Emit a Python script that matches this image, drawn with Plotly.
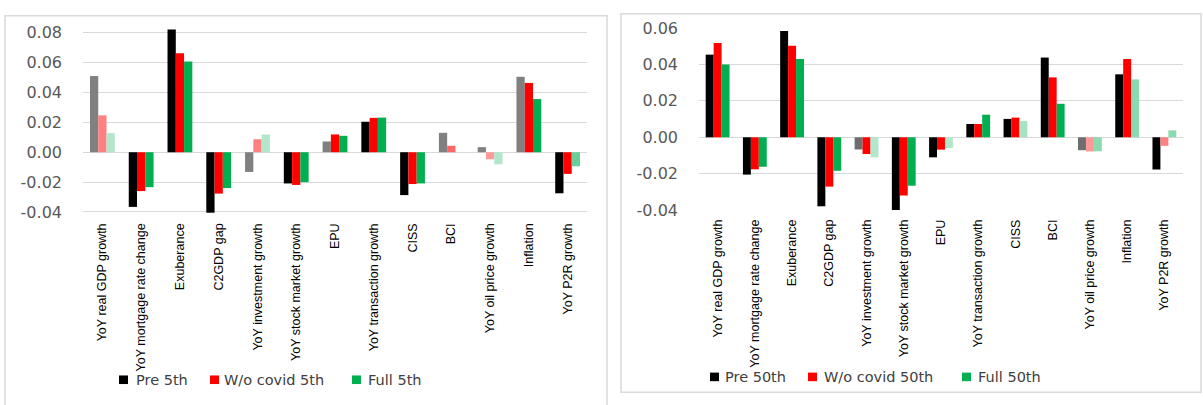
import plotly.graph_objects as go

# Indicator names along the x axis (shared by both panels)
categories = [
    "YoY real GDP growth", "YoY mortgage rate change", "Exuberance", "C2GDP gap",
    "YoY investment growth", "YoY stock market growth", "EPU",
    "YoY transaction growth", "CISS", "BCI", "YoY oil price growth",
    "Inflation", "YoY P2R growth",
]

# 5th quantile coefficients
pre_5th = [0.0510, -0.0366, 0.0822, -0.0405, -0.0132, -0.0209, 0.0072,
           0.0204, -0.0287, 0.0130, 0.0034, 0.0505, -0.0275]
wo_covid_5th = [0.0247, -0.0260, 0.0662, -0.0277, 0.0087, -0.0219, 0.0119,
                0.0230, -0.0213, 0.0043, -0.0047, 0.0464, -0.0145]
full_5th = [0.0128, -0.0234, 0.0607, -0.0240, 0.0119, -0.0200, 0.0110,
            0.0232, -0.0209, 0.0, -0.0081, 0.0356, -0.0094]

# 50th quantile coefficients
pre_50th = [0.0454, -0.0205, 0.0584, -0.0379, -0.0067, -0.0400, -0.0110,
            0.0073, 0.0101, 0.0438, -0.0071, 0.0346, -0.0177]
wo_covid_50th = [0.0518, -0.0176, 0.0503, -0.0271, -0.0092, -0.0320, -0.0068,
                 0.0073, 0.0108, 0.0329, -0.0078, 0.0430, -0.0047]
full_50th = [0.0400, -0.0162, 0.0430, -0.0184, -0.0110, -0.0266, -0.0059,
             0.0124, 0.0089, 0.0184, -0.0077, 0.0318, 0.0038]

# Y-axis ticks of each panel
ticks_5th = [-0.04, -0.02, 0.00, 0.02, 0.04, 0.06, 0.08]
ticks_50th = [-0.04, -0.02, 0.00, 0.02, 0.04, 0.06]

# Shading of each bar (1 = solid, lower = faded, weaker estimates)
pre_5th_shade = [0.5, 1, 1, 1, 0.5, 1, 0.5, 1, 1, 0.5, 0.5, 0.5, 1]
wo_covid_5th_shade = [0.5, 1, 1, 1, 0.5, 1, 1, 1, 1, 0.6, 0.4, 1, 1]
full_5th_shade = [0.3, 1, 1, 1, 0.3, 1, 1, 1, 1, 0.3, 0.3, 1, 0.6]
pre_50th_shade = [1, 1, 1, 1, 0.57, 1, 1, 1, 1, 1, 0.57, 1, 1]
wo_covid_50th_shade = [1, 1, 1, 1, 1, 1, 1, 1, 1, 1, 0.4, 1, 0.5]
full_50th_shade = [1, 1, 1, 1, 0.3, 1, 0.3, 1, 0.35, 1, 0.45, 0.45, 0.45]

BLACK = (0, 0, 0)
RED = (255, 0, 0)
GREEN = (0, 176, 80)


def tint(rgb, a):
    r, g, b = (round(255 - a * (255 - c)) for c in rgb)
    return f"rgb({r},{g},{b})"


def hexc(rgb):
    return "#%02x%02x%02x" % rgb


W, H = 1203, 405


def px_x(v):
    return v / W


def px_y(v):
    return (H - v) / H


fig = go.Figure()

panels = [
    dict(xa="x", ya="y",
         series=[("Pre 5th", pre_5th, pre_5th_shade, BLACK),
                 ("W/o covid 5th", wo_covid_5th, wo_covid_5th_shade, RED),
                 ("Full 5th", full_5th, full_5th_shade, GREEN)],
         # legend key: (square left edge, text left edge) in pixels, row centre
         keys=[(119, 135), (210, 223), (352, 367)], key_y=389),
    dict(xa="x2", ya="y2",
         series=[("Pre 50th", pre_50th, pre_50th_shade, BLACK),
                 ("W/o covid 50th", wo_covid_50th, wo_covid_50th_shade, RED),
                 ("Full 50th", full_50th, full_50th_shade, GREEN)],
         keys=[(710, 724), (808, 823), (962, 977)], key_y=386),
]

legend_font = dict(family="DejaVu Sans, Verdana, sans-serif", size=14.5, color="#404040")
shapes = []
annotations = []

for p in panels:
    for (name, vals, shade, rgb), (sq_x, tx_x) in zip(p["series"], p["keys"]):
        fig.add_trace(go.Bar(
            x=categories, y=vals, name=name, xaxis=p["xa"], yaxis=p["ya"],
            marker=dict(color=[tint(rgb, a) for a in shade], line=dict(width=0)),
            showlegend=False,
        ))
        cy = p["key_y"]
        shapes.append(dict(type="rect", xref="paper", yref="paper",
                           x0=px_x(sq_x), x1=px_x(sq_x + 9),
                           y0=px_y(cy + 4.5), y1=px_y(cy - 4.5),
                           fillcolor=hexc(rgb), line=dict(width=0)))
        annotations.append(dict(text=name, xref="paper", yref="paper",
                                x=px_x(tx_x), y=px_y(cy), xanchor="left",
                                yanchor="middle", showarrow=False,
                                font=legend_font, borderpad=0))

grid = "#d9d9d9"
tickfont = dict(family="DejaVu Sans, Verdana, sans-serif", size=16, color="#595959")
catfont = dict(family="Liberation Sans, Arial, sans-serif", size=12.5, color="#000000")

common_x = dict(tickangle=-90, tickfont=catfont, showgrid=False, showline=False,
                zeroline=False, ticks="", ticklabelstandoff=6, fixedrange=True)
common_y = dict(tickfont=tickfont, gridcolor=grid, gridwidth=1, zeroline=True,
                zerolinecolor=grid, zerolinewidth=1, showline=False, ticks="",
                ticklabelstandoff=20)

shapes += [
    dict(type="rect", xref="paper", yref="paper",
         x0=px_x(5), x1=px_x(607), y0=px_y(425), y1=px_y(7),
         line=dict(color=grid, width=1.5), fillcolor="rgba(0,0,0,0)", layer="below"),
    dict(type="rect", xref="paper", yref="paper",
         x0=px_x(621), x1=px_x(1201), y0=px_y(402), y1=px_y(5),
         line=dict(color=grid, width=1.5), fillcolor="rgba(0,0,0,0)", layer="below"),
]

# left panel: 0.02 per 31.5 px, a little headroom around the outer gridlines
fig.update_layout(
    width=W, height=H,
    margin=dict(l=0, r=0, t=0, b=0),
    paper_bgcolor="white", plot_bgcolor="white",
    barmode="group", bargap=0.36, bargroupgap=0,
    showlegend=False,
    xaxis=dict(domain=[px_x(83), px_x(587)], anchor="y", **common_x),
    yaxis=dict(domain=[px_y(215), px_y(21)], range=[-0.0413, 0.0825], anchor="x",
               tickvals=ticks_5th, ticktext=[f"{t:.2f}" for t in ticks_5th],
               **common_y),
    xaxis2=dict(domain=[px_x(699), px_x(1183)], anchor="y2", **common_x),
    yaxis2=dict(domain=[px_y(211), px_y(20)], range=[-0.04, 0.06], anchor="x2",
                tickvals=ticks_50th, ticktext=[f"{t:.2f}" for t in ticks_50th],
                **common_y),
    shapes=shapes,
    annotations=annotations,
)

fig.write_html("out.html")
